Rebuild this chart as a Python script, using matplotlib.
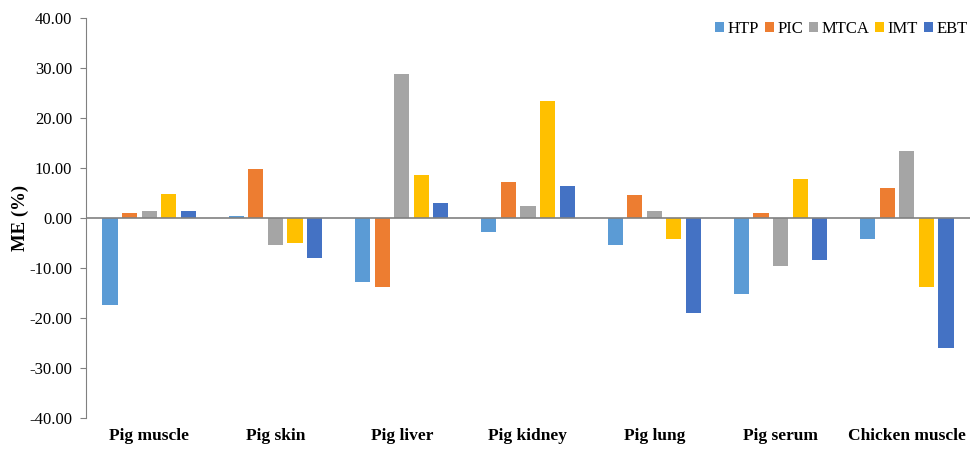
import numpy as np
import matplotlib.pyplot as plt

# data
categories = ["Pig muscle", "Pig skin", "Pig liver", "Pig kidney", "Pig lung", "Pig serum", "Chicken muscle"]
htp = [-17.4, 0.5, -12.7, -2.7, -5.3, -15.1, -4.1]
pic = [1.0, 9.8, -13.7, 7.3, 4.6, 1.0, 6.0]
mtca = [1.4, -5.3, 28.9, 2.5, 1.5, -9.6, 13.5]
imt = [4.9, -5.0, 8.7, 23.5, -4.1, 7.9, -13.7]
ebt = [1.4, -8.0, 3.0, 6.5, -18.9, -8.4, -25.9]

series = [("HTP", htp, "#5B9BD5"), ("PIC", pic, "#ED7D31"), ("MTCA", mtca, "#A5A5A5"),
          ("IMT", imt, "#FFC000"), ("EBT", ebt, "#4472C4")]

plt.rcParams['font.family'] = ['Liberation Serif', 'DejaVu Serif']

fig = plt.figure(figsize=(9.71, 4.49), dpi=100)
ax = fig.add_axes([86 / 971, 31 / 449, 884 / 971, 400 / 449])

x = np.arange(len(categories))
pitch = 0.155
width = 0.12
for i, (name, vals, color) in enumerate(series):
    ax.bar(x + (i - 2) * pitch, vals, width, color=color, label=name, zorder=2)

ax.axhline(0, color="#808080", lw=1.2, zorder=3)
ax.set_xlim(-0.5, len(categories) - 0.5)
ax.set_ylim(-40, 40)
ax.set_yticks(np.arange(-40, 41, 10))
ax.set_yticklabels([f"{v:.2f}" for v in np.arange(-40, 41, 10)], fontsize=12)
ax.set_xticks(x)
ax.set_xticklabels(categories, fontsize=12.5, fontweight="bold")
ax.tick_params(axis="x", length=0, pad=7)
ax.tick_params(axis="y", direction="out", length=4, color="#808080", pad=6)

for s in ["top", "right", "bottom"]:
    ax.spines[s].set_visible(False)
ax.spines["left"].set_color("#808080")

ax.set_ylabel("ME (%)", fontsize=13.5, fontweight="bold", labelpad=0)

ax.legend(loc="upper right", bbox_to_anchor=(1.005, 1.01), ncol=5, frameon=False, fontsize=12,
          handlelength=0.55, handleheight=0.55, handletextpad=0.2, columnspacing=0.35,
          borderaxespad=0.0)

fig.savefig("out.png", dpi=100)
